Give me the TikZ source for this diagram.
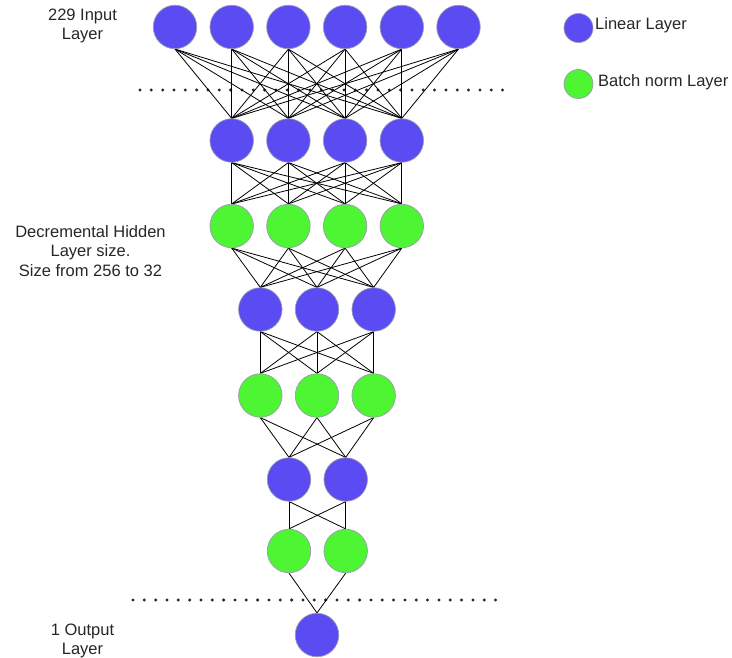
\documentclass[tikz,border=0pt]{standalone}
\usepackage{fontspec}
\setmainfont{Liberation Sans}
\usetikzlibrary{backgrounds}
\definecolor{linblue}{HTML}{5A4BF2}
\definecolor{bngreen}{HTML}{4EF532}
\definecolor{ringgray}{HTML}{9A9AB4}
\begin{document}
\begin{tikzpicture}[x=1pt,y=-1pt,
  neuron/.style={circle,minimum size=43.5pt,inner sep=0pt,draw=ringgray,line width=0.7pt},
  linear/.style={neuron,fill=linblue},
  bnorm/.style={neuron,fill=bngreen},
  keydot/.style={minimum size=29pt},
  link/.style={black,line width=0.8pt},
  sepline/.style={black!85,line width=3.3pt,line cap=round,dash pattern=on 0pt off 11.33pt},
  caption/.style={font=\fontsize{16.5}{19.5}\selectfont,align=center,text=black!85,inner sep=0pt},
  keytext/.style={font=\fontsize{16.5}{19.5}\selectfont,text=black!85,inner sep=0pt,anchor=west}
]
\useasboundingbox (0,0) rectangle (732,658);

% layers: index / centre y / neuron count / first x / kind
\foreach \i/\y/\n/\xs/\kind in {0/27/6/175/linear, 1/140.5/4/231.7/linear,
    2/226/4/231.7/bnorm, 3/309.5/3/260.3/linear, 4/395.5/3/260.3/bnorm,
    5/479.5/2/289/linear, 6/551/2/289/bnorm, 7/635/1/317/linear}{
  \foreach \k in {1,...,\n}{
    \node[\kind] (n\i-\k) at ({\xs+(\k-1)*56.7},\y) {};
  }
}

% input / output separators
\coordinate (sepTopL) at (140,90);
\coordinate (sepTopR) at (503,90);
\coordinate (sepBotL) at (133,600);
\coordinate (sepBotR) at (497,600);

\begin{pgfonlayer}{background}
  \draw[sepline] (sepTopL) -- (sepTopR);
  \draw[sepline] (sepBotL) -- (sepBotR);
  % fully connected links between consecutive layers
  \foreach \i/\n/\m in {0/6/4, 1/4/4, 2/4/3, 3/3/3, 4/3/2, 5/2/2, 6/2/1}{
    \pgfmathtruncatemacro\j{\i+1}
    \foreach \a in {1,...,\n}{
      \foreach \b in {1,...,\m}{
        \draw[link] (n\i-\a.south) -- (n\j-\b.north);
      }
    }
  }
\end{pgfonlayer}

% side captions
\node[caption] (capIn) at (82.5,26) {229 Input\\Layer};
\node[caption] (capHid) at (90.5,251) {Decremental Hidden\\Layer size.\\Size from 256 to 32};
\node[caption] (capOut) at (82.5,641) {1 Output\\Layer};

% legend
\node[linear,keydot] (keyLin) at (578.5,28) {};
\node[keytext] (keyLinTxt) at (595,25) {Linear Layer};
\node[bnorm,keydot] (keyBn) at (578.5,84) {};
\node[keytext] (keyBnTxt) at (598,82) {Batch norm Layer};
\end{tikzpicture}
\end{document}
